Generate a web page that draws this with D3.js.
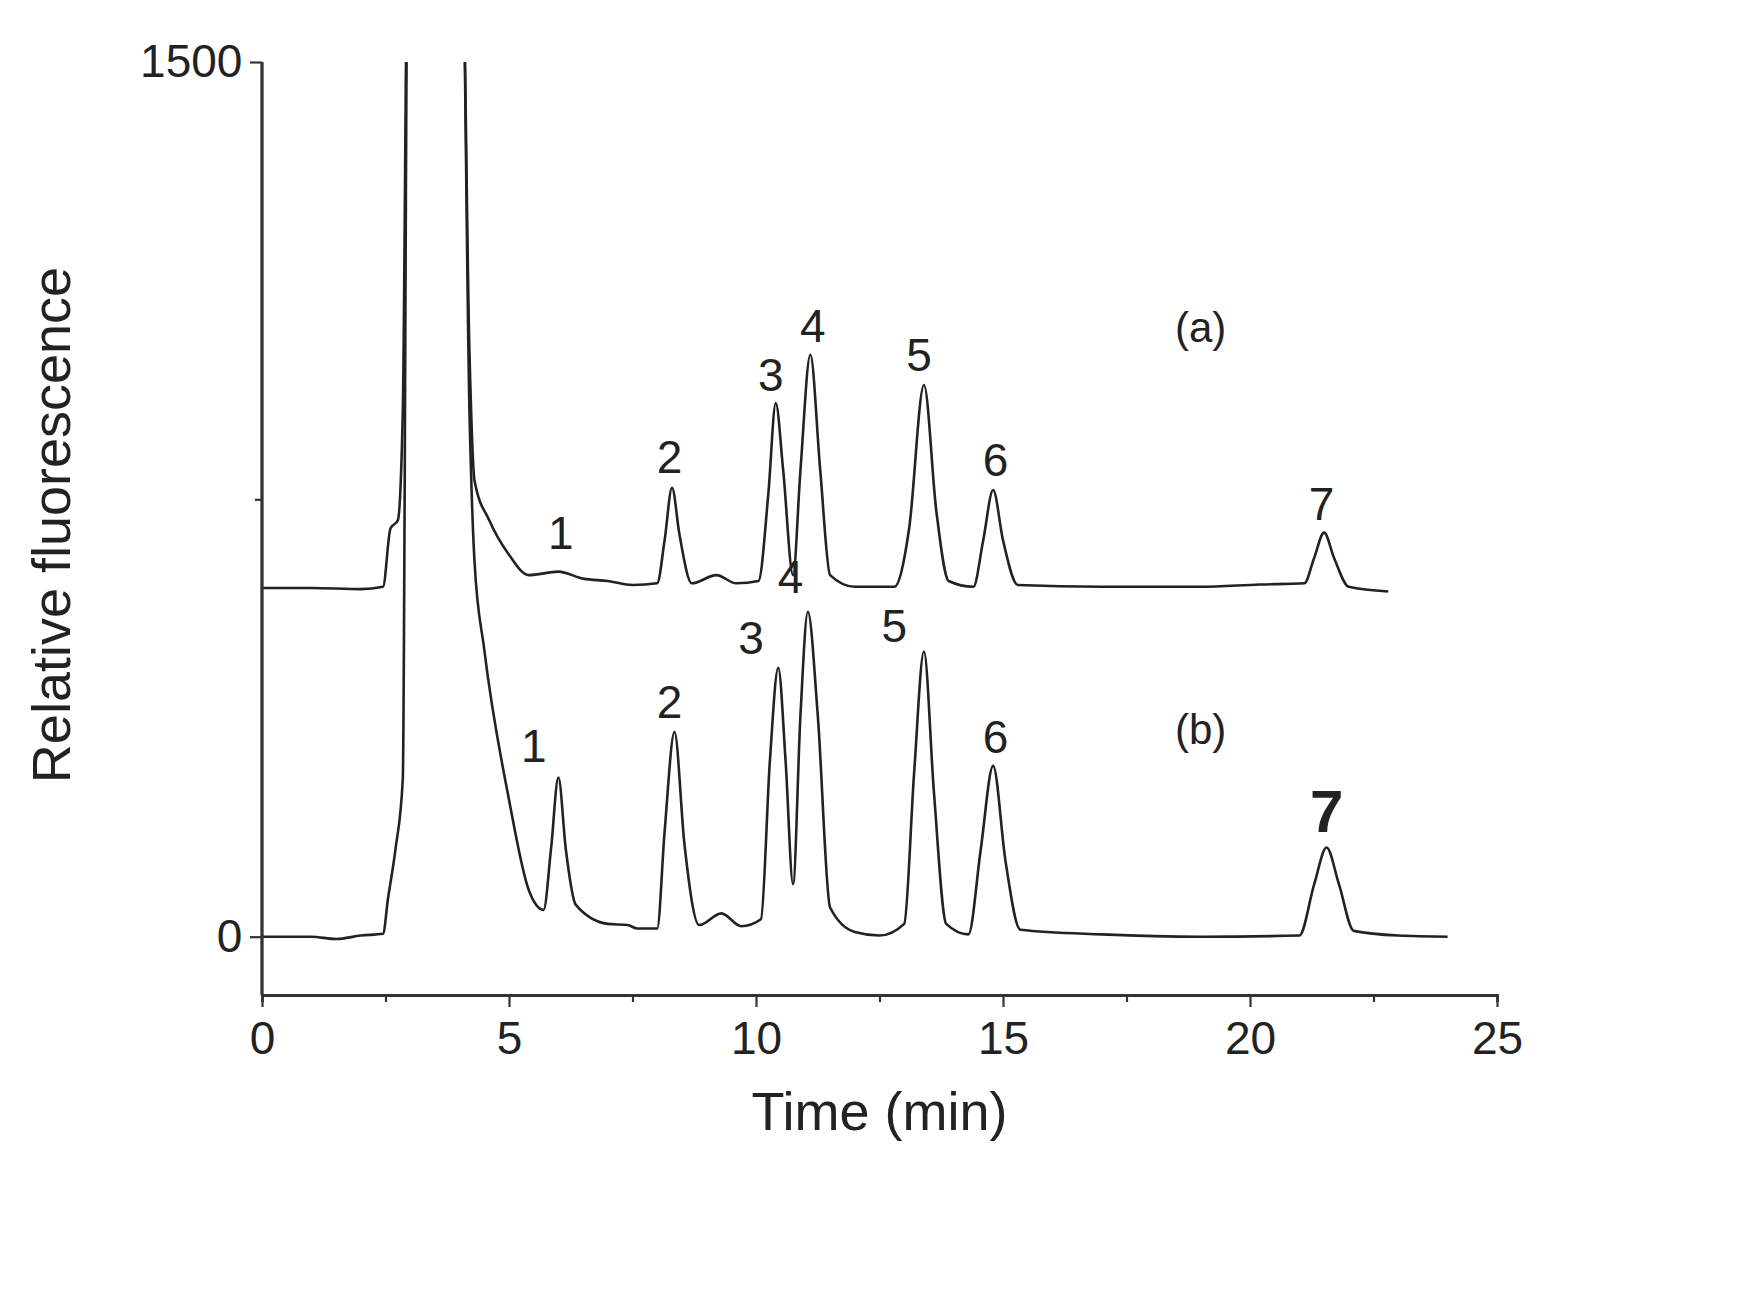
<!DOCTYPE html>
<html><head><meta charset="utf-8">
<script src="https://cdn.jsdelivr.net/npm/d3@7"></script>
<style>body{margin:0;background:#fff}</style>
</head><body>
<svg id="c" width="1749" height="1314"></svg>
<script>
// chromatogram (a), upper trace: [time min, fluorescence]
const traceA = [[0,598],[1,598],[2,596],[2.45,600],[2.6,700],[2.75,714],[2.85,900],[2.95,1700],
  [4.05,1700],[4.2,1000],[4.3,783],[4.6,714],[5,655],[5.4,620],[6,626],[6.5,614],[7,610],[7.5,603],[8,606],
  [8.15,680],[8.3,770],[8.45,690],[8.7,606],[9.2,620],[9.6,606],[10.05,610],[10.25,760],[10.4,915],[10.55,800],
  [10.75,620],[10.9,800],[11.1,998],[11.3,800],[11.5,620],[12,600],[12.8,600],[13.1,700],[13.4,946],[13.65,730],
  [13.9,610],[14.4,600],[14.6,680],[14.8,766],[15.0,680],[15.3,603],[17,600],[19,600],[20.2,604],[21.1,606],
  [21.3,650],[21.5,693],[21.7,650],[22.0,600],[22.8,592]];
// chromatogram (b), lower trace
const traceB = [[0,0],[1,0],[1.5,-4],[2,2],[2.45,5],[2.55,65],[2.7,149],[2.85,270],[2.95,1700],
  [4.05,1700],[4.2,900],[4.3,646],[4.5,492],[5,235],[5.4,80],[5.7,46],[5.85,150],[6.0,273],[6.15,150],
  [6.35,55],[7,22],[7.4,20],[7.6,14],[8,14],[8.15,180],[8.35,351],[8.55,160],[8.85,20],[9.3,40],[9.7,18],
  [10.1,30],[10.28,300],[10.45,461],[10.6,300],[10.75,90],[10.9,380],[11.05,557],[11.25,380],[11.5,50],
  [12,8],[12.5,2],[13,22],[13.2,280],[13.4,489],[13.6,250],[13.85,22],[14.3,4],[14.55,150],[14.8,293],
  [15.05,130],[15.35,12],[17,4],[19,0],[21.0,2],[21.3,90],[21.55,153],[21.8,90],[22.1,10],[23,2],[24,0]];
const xTicks = [0,5,10,15,20,25];
const xMinor = [2.5,7.5,12.5,17.5,22.5];
const yTicks = [0,1500];
const yMinor = [750];
// peak labels: [label, time, value]
const labelsA = [["1",6.05,665],["2",8.25,795],["3",10.3,935],["4",11.15,1020],["5",13.3,970],["6",14.85,790],["7",21.45,715],["(a)",19.0,1020]];
const labelsB = [["1",5.5,300],["2",8.25,375],["3",9.9,485],["4",10.7,590],["5",12.8,505],["6",14.85,315],["(b)",19.0,330]];

const svg = d3.select("#c");
const x = d3.scaleLinear().domain([0,25]).range([262,1497]);
const y = d3.scaleLinear().domain([-100,1500]).range([995,62]);
const font = "'Liberation Sans', Arial, sans-serif";

svg.append("clipPath").attr("id","clip").append("rect")
  .attr("x",262).attr("y",62).attr("width",1235).attr("height",933);

const line = d3.line().x(d=>x(d[0])).y(d=>y(d[1])).curve(d3.curveMonotoneX);
[traceA, traceB].forEach(t => {
  svg.append("path").datum(t).attr("d",line).attr("clip-path","url(#clip)")
    .attr("fill","none").attr("stroke","#222").attr("stroke-width",2.6);
});

// axes
const gx = svg.append("g").attr("transform","translate(0,995)");
gx.call(d3.axisBottom(x).tickValues(xTicks).tickSize(12).tickSizeOuter(0).tickFormat(d3.format("d")));
gx.append("g").call(d3.axisBottom(x).tickValues(xMinor).tickSize(7).tickFormat(""));
const gy = svg.append("g").attr("transform","translate(262,0)");
gy.call(d3.axisLeft(y).tickValues(yTicks).tickSize(12).tickSizeOuter(0).tickFormat(d3.format("d")));
gy.append("g").call(d3.axisLeft(y).tickValues(yMinor).tickSize(7).tickFormat(""));
svg.selectAll(".domain").attr("stroke","#333").attr("stroke-width",2.8);
svg.selectAll(".tick line").attr("stroke","#333").attr("stroke-width",2.2);
gx.selectAll("text").attr("font-family",font).attr("font-size",46).attr("fill","#222").attr("dy","0.95em");
gy.selectAll("text").attr("font-family",font).attr("font-size",46).attr("fill","#222").attr("dx","-0.1em");
gy.selectAll(".domain").attr("d","M0,62V995");

svg.append("text").attr("x",x(12.5)).attr("y",1130).attr("text-anchor","middle")
  .attr("font-family",font).attr("font-size",54).attr("fill","#222").text("Time (min)");
svg.append("text").attr("transform","translate(70,525) rotate(-90)").attr("text-anchor","middle")
  .attr("font-family",font).attr("font-size",54).attr("fill","#222").text("Relative fluorescence");

labelsA.concat(labelsB).forEach(l => {
  svg.append("text").attr("x",x(l[1])).attr("y",y(l[2])).attr("text-anchor","middle")
    .attr("font-family",font).attr("font-size",l[0].length > 1 ? 42 : 46).attr("fill","#222").text(l[0]);
});
svg.append("text").attr("x",x(21.55)).attr("y",y(180)).attr("text-anchor","middle")
  .attr("font-family",font).attr("font-size",60).attr("font-weight","bold").attr("fill","#222").text("7");
</script>
</body></html>
